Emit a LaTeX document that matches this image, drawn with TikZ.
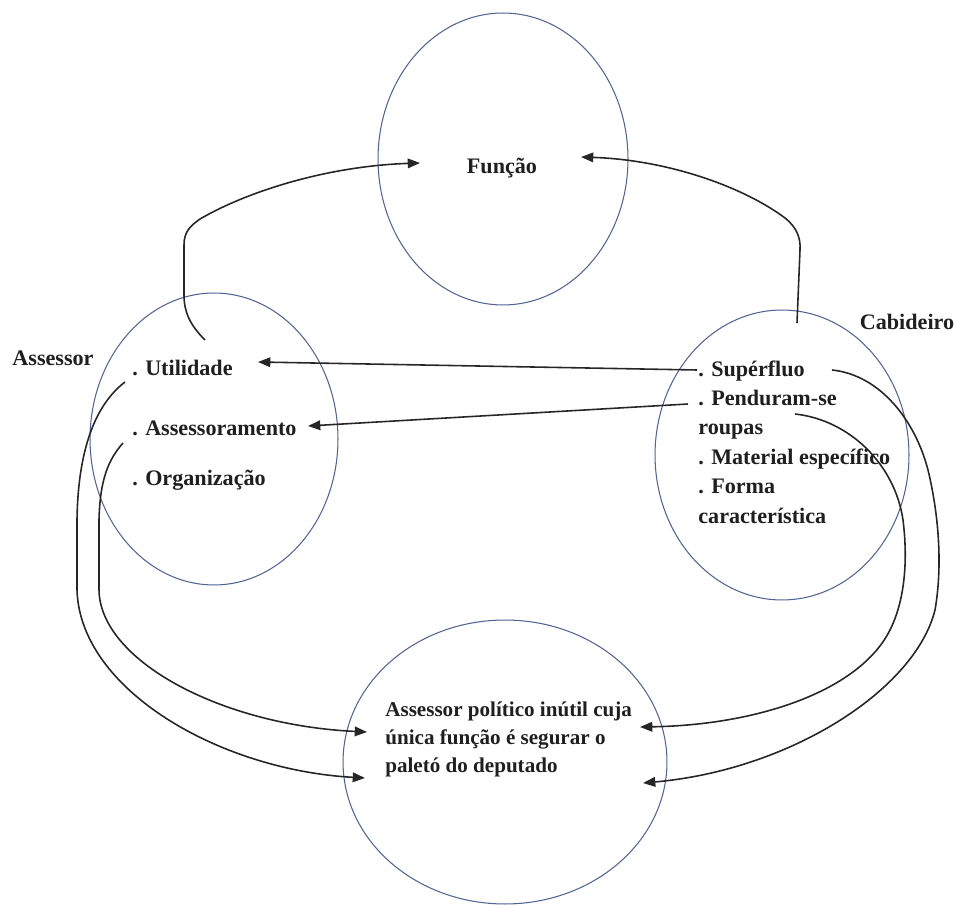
\documentclass[tikz,border=0pt]{standalone}
\usepackage{fontspec}
\setmainfont{Liberation Serif}
\usetikzlibrary{arrows.meta,shapes.geometric}
\definecolor{ellc}{RGB}{80,100,150}
\begin{document}
\begin{tikzpicture}[x=0.02cm,y=-0.02cm,
  ell/.style={draw=ellc, line width=0.6pt, ellipse, inner sep=0pt, outer sep=0pt},
  lbl/.style={font=\fontsize{12.6}{16.7}\selectfont\bfseries, inner sep=0pt, text=black!88},
  arr/.style={draw=black!85, line width=0.9pt, -{Triangle[length=7pt,width=5.5pt]}}]
\useasboundingbox (0,0) rectangle (957,905);

% ellipses
\node[ell, minimum width=5cm, minimum height=5.84cm] (funcao) at (503,159) {};
\node[ell, minimum width=4.96cm, minimum height=5.84cm] (assessor) at (214,439) {};
\node[ell, minimum width=5.08cm, minimum height=5.8cm] (cabideiro) at (782,455) {};
\node[ell, minimum width=6.48cm, minimum height=5.68cm] (inutil) at (505,762) {};

% texts
\node[lbl] (tfuncao) at (502,168) {Função};
\node[lbl] (tassessor) at (53,358) {Assessor};
\node[lbl] (tcabideiro) at (907,322) {Cabideiro};
\node[lbl, anchor=base west] (util) at (132,376) {. Utilidade};
\node[lbl, anchor=base west] (assess) at (132,436) {. Assessoramento};
\node[lbl, anchor=base west] (organ) at (132,485) {. Organização};
% multi-line nodes: base anchor = baseline of the last line
\node[lbl, anchor=base west, align=left] (lista) at (698,523)
  {. Supérfluo\\. Penduram-se\\roupas\\. Material específico\\. Forma\\característica};
\node[lbl, anchor=base west, align=left, font=\fontsize{12}{15.9}\selectfont\bfseries] (tinutil) at (385,772)
  {Assessor político inútil cuja\\única função é segurar o\\paletó do deputado};

% connector end points
\coordinate (sA) at (205,340);
\coordinate (fL) at (420,163);
\coordinate (sC) at (797,323);
\coordinate (fR) at (581,157);
\coordinate (sSup) at (697,370);
\coordinate (uTip) at (258,362);
\coordinate (sPen) at (688,404);
\coordinate (aTip) at (308,426);
\coordinate (sU) at (125,382);
\coordinate (sAs) at (123,443);
\coordinate (bL1) at (367,732);
\coordinate (bL2) at (365,778);
\coordinate (sS2) at (832,370);
\coordinate (sR2) at (795,414);
\coordinate (bR1) at (640,727);
\coordinate (bR2) at (643,783);

% connectors
\draw[arr] (sA) .. controls (190,325) and (184,312) .. (184,295) -- (184,245)
  .. controls (184,232) and (190,226) .. (200,219)
  .. controls (250,190) and (330,166) .. (fL);
\draw[arr] (sC) -- (800,250) .. controls (801,236) and (795,226) .. (785,218)
  .. controls (745,188) and (670,160) .. (fR);
\draw[arr] (sSup) -- (uTip);
\draw[arr] (sPen) -- (aTip);
\draw[arr] (sU) .. controls (95,405) and (78,450) .. (77,520) -- (77,590)
  .. controls (80,690) and (220,770) .. (bL2);
\draw[arr] (sAs) .. controls (108,460) and (100,480) .. (99,520) -- (99,590)
  .. controls (100,660) and (220,725) .. (bL1);
\draw[arr] (sS2) .. controls (880,375) and (915,420) .. (928,470)
  .. controls (940,520) and (942,570) .. (935,610)
  .. controls (915,690) and (790,770) .. (bR2);
\draw[arr] (sR2) .. controls (850,420) and (895,465) .. (903,520)
  .. controls (908,560) and (905,600) .. (890,630)
  .. controls (860,690) and (760,725) .. (bR1);
\end{tikzpicture}
\end{document}
